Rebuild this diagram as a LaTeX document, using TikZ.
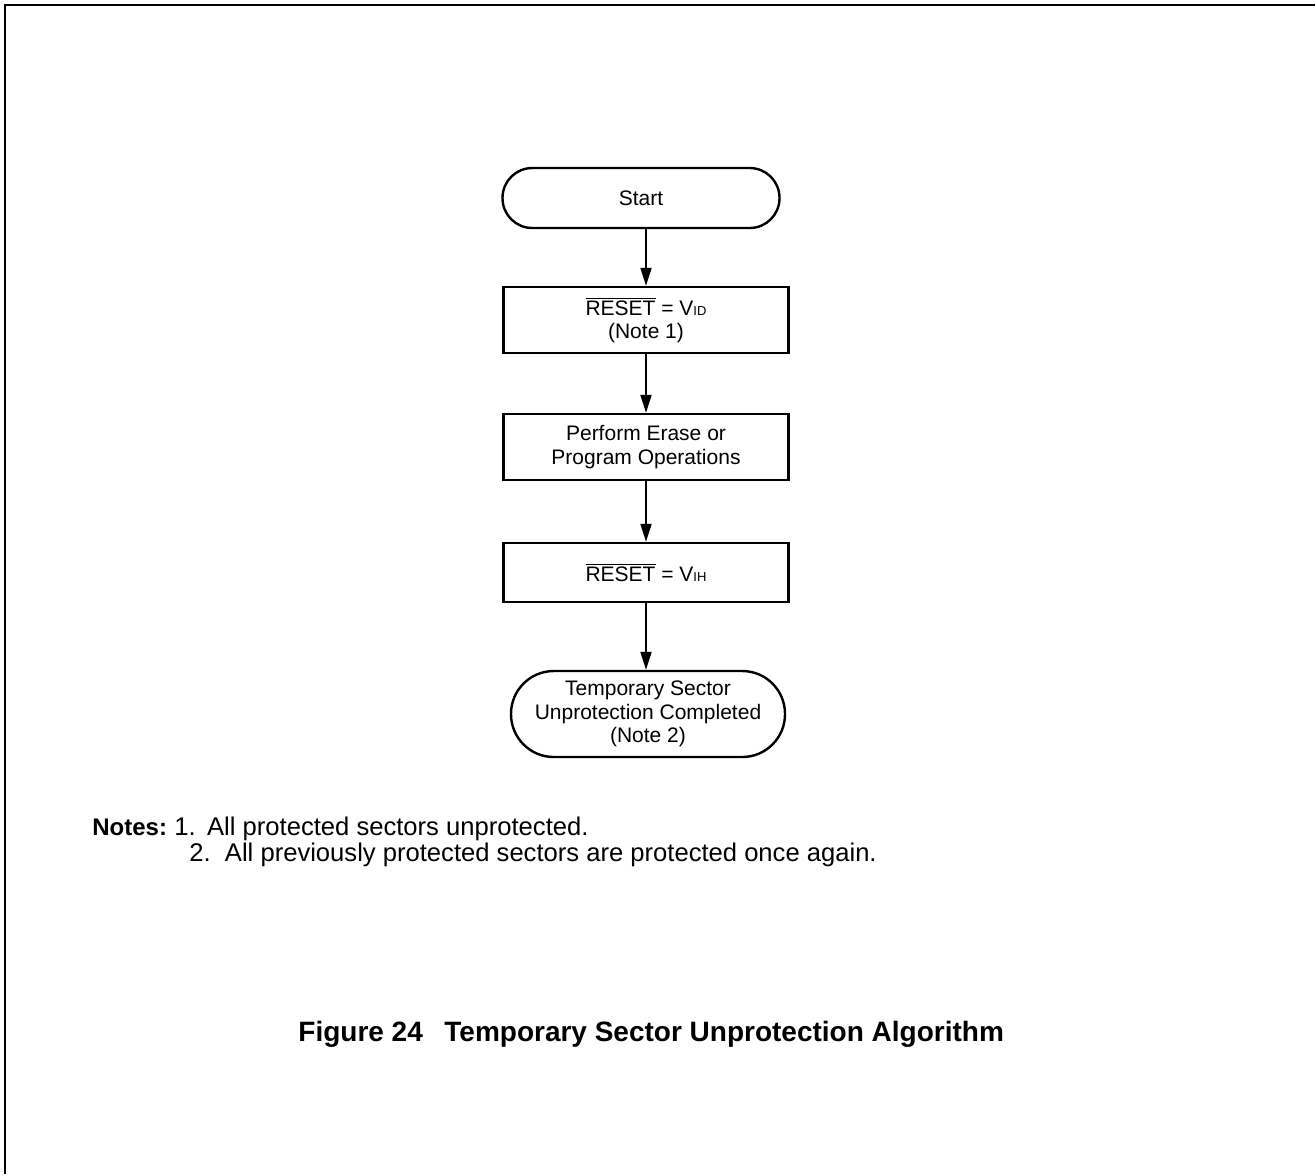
\documentclass[tikz,border=0pt]{standalone}
\usepackage{fontspec}
\setmainfont{Liberation Sans}
\usetikzlibrary{arrows.meta}
\newcommand{\resetbar}{$\overline{\mbox{RESET}}$}
\newcommand{\vsub}[1]{V{\fontsize{6.5}{7}\selectfont #1}}
\begin{document}
\begin{tikzpicture}
    [x=0.5pt,y=-0.5pt,
    % Styles
    box/.style={draw,line width=1.2pt,minimum width=142.5pt,minimum height=33pt,
      align=center,inner sep=0pt,font=\fontsize{10.5}{11.75}\selectfont},
    terminal/.style={box,rounded corners=14.9pt,minimum width=137pt,minimum height=30pt},
    flow/.style={line width=1pt,-{Triangle[length=9pt,width=5.5pt]}},
    frame line/.style={line width=1pt},
    note text/.style={anchor=base west,inner sep=0pt,font=\fontsize{12.8}{13}\selectfont},
    caption text/.style={anchor=base west,inner sep=0pt,font=\bfseries\fontsize{14}{16}\selectfont}]
    \useasboundingbox (0,0) rectangle (1315,1174);
    % Frame
    \draw[frame line] (5,1174) -- (5,5) -- (1315,5);
    % The graphic
    \node[terminal,minimum width=138.5pt] (start) at (641,198) {Start};
    \node[box] (reset id) at (646,320) {\resetbar{} = \vsub{ID}\\(Note 1)};
    \node[box] (perform) at (646,447) {Perform Erase or\\Program Operations};
    \node[box,minimum height=29.5pt] (reset ih) at (646,572.5) {\resetbar{} = \vsub{IH}};
    \node[terminal,rounded corners=21.4pt,minimum height=43pt] (done) at (648,714)
      {Temporary Sector\\Unprotection Completed\\(Note 2)};
    \draw[flow] (start.south -| reset id.north) -- (reset id);
    \draw[flow] (reset id) -- (perform);
    \draw[flow] (perform) -- (reset ih);
    \draw[flow] (reset ih) -- (reset ih |- done.north);
    % Notes
    \node[note text,font=\bfseries\fontsize{12}{13}\selectfont] (notes) at (92,835) {Notes:};
    \node[note text] (note one) at (174,835) {1.\,\ All protected sectors unprotected.};
    \node[note text] (note two) at (189,861) {2.\ \ All previously protected sectors are protected once again.};
    % Caption
    \node[caption text] (fig num) at (298,1041) {Figure 24};
    \node[caption text] (fig title) at (444,1041) {Temporary Sector Unprotection Algorithm};
\end{tikzpicture}
\end{document}
